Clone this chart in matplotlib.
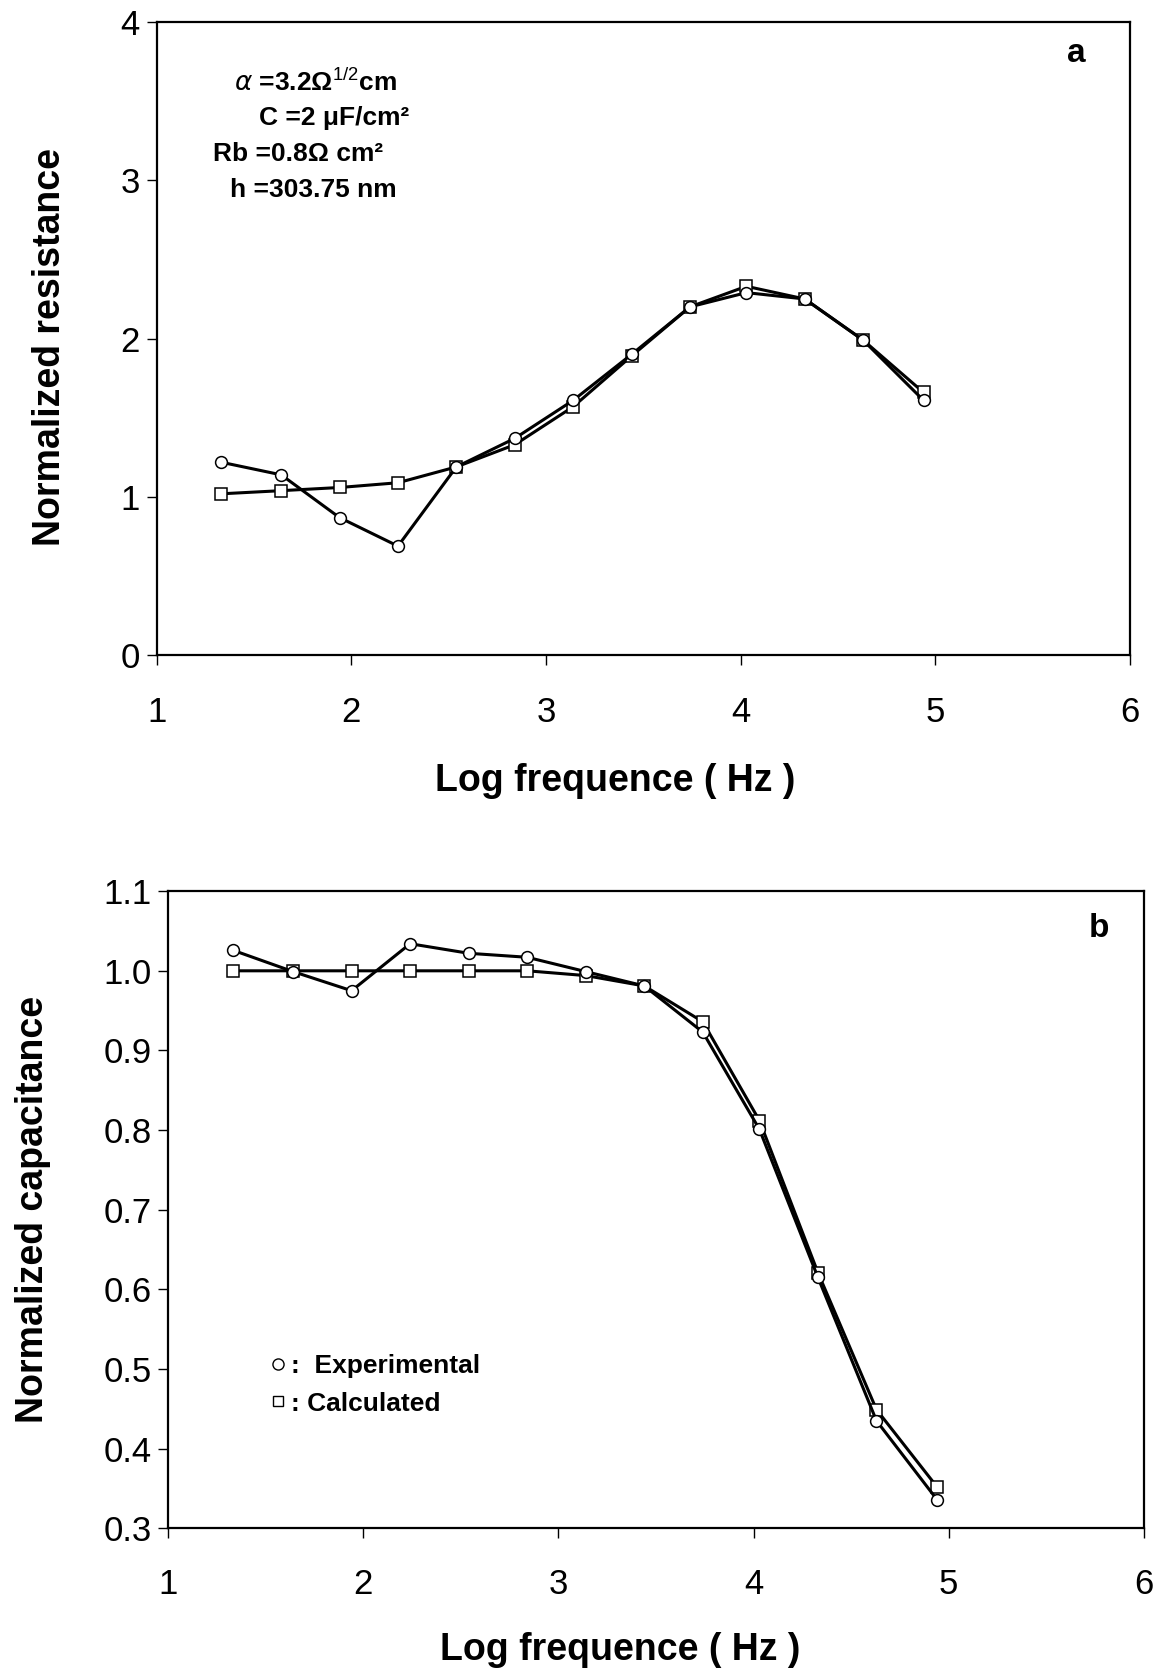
import matplotlib
matplotlib.use("Agg")
import matplotlib.pyplot as plt
from matplotlib.lines import Line2D

plt.rcParams['font.family'] = ['Liberation Sans', 'DejaVu Sans']
plt.rcParams['mathtext.fontset'] = 'custom'
plt.rcParams['mathtext.rm'] = 'Liberation Sans'
plt.rcParams['mathtext.bf'] = 'Liberation Sans:bold'

# log frequency (Hz)
log_f = [1.33, 1.64, 1.94, 2.24, 2.54, 2.84, 3.14, 3.44, 3.74, 4.03, 4.33, 4.63, 4.94]

# panel a: normalized resistance
res_exp = [1.22, 1.14, 0.87, 0.69, 1.19, 1.37, 1.61, 1.90, 2.20, 2.29, 2.25, 1.99, 1.61]
res_calc = [1.02, 1.04, 1.06, 1.09, 1.19, 1.33, 1.57, 1.89, 2.20, 2.33, 2.25, 1.99, 1.66]

# panel b: normalized capacitance
cap_exp = [1.026, 0.999, 0.975, 1.034, 1.022, 1.017, 0.999, 0.981, 0.923, 0.801, 0.615, 0.435, 0.336]
cap_calc = [1.0, 1.0, 1.0, 1.0, 1.0, 1.0, 0.994, 0.981, 0.936, 0.812, 0.621, 0.449, 0.352]

params_text = [r"$\alpha$ =3.2Ω$^{1/2}$cm",
               "C =2 μF/cm²",
               "Rb =0.8Ω cm²",
               "h =303.75 nm"]

fig = plt.figure(figsize=(11.6, 16.72), dpi=100)
ax_a = fig.add_axes([0.135, 0.608, 0.839, 0.379])
ax_b = fig.add_axes([0.145, 0.086, 0.841, 0.381])

line_kw = dict(color='black', lw=2.2, markerfacecolor='white',
               markeredgecolor='black', markeredgewidth=1.1, markersize=8.5)


def style_axes(ax, xpad):
    for spine in ax.spines.values():
        spine.set_linewidth(1.6)
    ax.tick_params(axis='both', direction='out', length=7, width=1.0,
                   labelsize=25, top=False, right=False)
    ax.tick_params(axis='x', pad=22)
    ax.tick_params(axis='y', pad=5)
    ax.set_xlim(1, 6)
    ax.set_xticks([1, 2, 3, 4, 5, 6])
    ax.set_xlabel("Log frequence ( Hz )", fontsize=27, fontweight='bold', labelpad=xpad)


# --- panel a ---
ax_a.plot(log_f, res_calc, marker='s', **line_kw)
ax_a.plot(log_f, res_exp, marker='o', **line_kw)
style_axes(ax_a, 25)
ax_a.set_ylim(0, 4)
ax_a.set_yticks([0, 1, 2, 3, 4])
ax_a.set_ylabel("Normalized resistance", fontsize=27, fontweight='bold', labelpad=38)
ax_a.xaxis.label.set_x(0.471)
ax_a.yaxis.label.set_y(0.487)
ax_a.text(0.955, 0.975, "a", transform=ax_a.transAxes, fontsize=24,
          fontweight='bold', ha='right', va='top')
text_x = [0.08, 0.105, 0.058, 0.075]
for i, (s, tx) in enumerate(zip(params_text, text_x)):
    ax_a.text(tx, 0.905 - i * 0.057, s, transform=ax_a.transAxes,
              fontsize=19, fontweight='bold', ha='left', va='center')

# --- panel b ---
ax_b.plot(log_f, cap_calc, marker='s', **line_kw)
ax_b.plot(log_f, cap_exp, marker='o', **line_kw)
style_axes(ax_b, 22)
ax_b.set_ylim(0.3, 1.1)
ax_b.set_yticks([0.3, 0.4, 0.5, 0.6, 0.7, 0.8, 0.9, 1.0, 1.1])
ax_b.set_yticklabels([f"{v:.1f}" for v in ax_b.get_yticks()])
ax_b.set_ylabel("Normalized capacitance", fontsize=27, fontweight='bold', labelpad=38)
ax_b.xaxis.label.set_x(0.463)
ax_b.text(0.965, 0.965, "b", transform=ax_b.transAxes, fontsize=24,
          fontweight='bold', ha='right', va='top')

handles = [Line2D([], [], marker='o', ls='none', markerfacecolor='white',
                  markeredgecolor='black', markersize=8),
           Line2D([], [], marker='s', ls='none', markerfacecolor='white',
                  markeredgecolor='black', markersize=7)]
ax_b.legend(handles, [":  Experimental", ": Calculated"], loc='upper left',
            bbox_to_anchor=(0.08, 0.31), frameon=False, handlelength=0.6,
            handletextpad=0.2, labelspacing=0.5,
            prop=dict(size=19, weight='bold'))

fig.savefig("out.png", dpi=100, facecolor='white')
